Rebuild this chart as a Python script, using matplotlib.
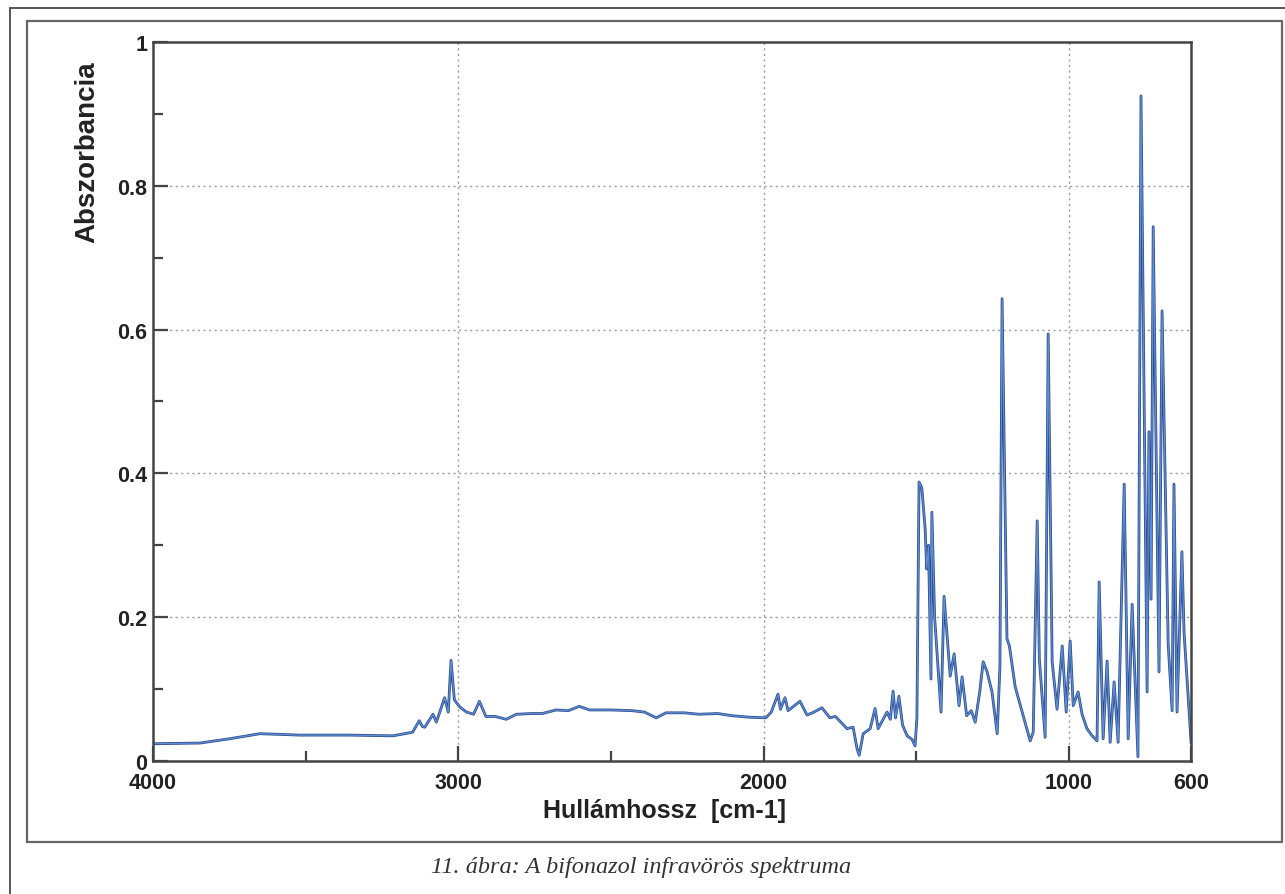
import matplotlib
matplotlib.use("Agg")
import matplotlib.pyplot as plt
from matplotlib.lines import Line2D
from matplotlib.patches import Rectangle

# IR spectrum of bifonazole
wavenumber = [4000, 3846, 3748, 3650, 3518, 3355, 3214, 3175, 3150, 3128, 3118,
              3110, 3083, 3072, 3045, 3033, 3024, 3013, 2995, 2973, 2950, 2931,
              2910, 2880, 2843, 2810, 2760, 2725, 2680, 2640, 2604, 2570, 2500,
              2431, 2390, 2352, 2320, 2260, 2212, 2150, 2104, 2050, 1993, 1975,
              1953, 1945, 1930, 1920, 1881, 1858, 1840, 1809, 1783, 1765, 1727,
              1707, 1694, 1687, 1674, 1651, 1635, 1625, 1596, 1585, 1576, 1568,
              1557, 1545, 1530, 1514, 1504, 1498, 1491, 1482, 1471, 1466, 1460,
              1452, 1449, 1440, 1419, 1409, 1389, 1376, 1360, 1350, 1335, 1320,
              1307, 1292, 1281, 1268, 1252, 1235, 1226, 1219, 1203, 1195, 1176,
              1150, 1127, 1117, 1104, 1097, 1078, 1068, 1055, 1039, 1022, 1009,
              996, 986, 970, 957, 941, 924, 908, 901, 888, 875, 865, 852, 839,
              819, 806, 793, 774, 764, 744, 738, 731, 724, 705, 695, 675, 662,
              656, 646, 630, 623, 616, 606, 600]
absorbance = [0.024, 0.025, 0.031, 0.038, 0.036, 0.036, 0.035, 0.038, 0.040, 0.056, 0.048,
              0.047, 0.065, 0.054, 0.088, 0.068, 0.140, 0.085, 0.075, 0.068, 0.065, 0.083,
              0.062, 0.062, 0.058, 0.065, 0.066, 0.066, 0.071, 0.070, 0.076, 0.071, 0.071,
              0.070, 0.068, 0.060, 0.067, 0.067, 0.065, 0.066, 0.063, 0.061, 0.060, 0.068,
              0.093, 0.072, 0.088, 0.070, 0.083, 0.064, 0.067, 0.074, 0.060, 0.062, 0.045,
              0.047, 0.017, 0.008, 0.038, 0.045, 0.073, 0.045, 0.068, 0.058, 0.097, 0.060,
              0.090, 0.050, 0.035, 0.030, 0.021, 0.060, 0.388, 0.380, 0.323, 0.267, 0.300,
              0.114, 0.346, 0.200, 0.068, 0.229, 0.118, 0.149, 0.077, 0.117, 0.063, 0.070,
              0.054, 0.097, 0.138, 0.124, 0.096, 0.038, 0.132, 0.643, 0.170, 0.160, 0.103,
              0.063, 0.028, 0.040, 0.334, 0.142, 0.033, 0.594, 0.138, 0.072, 0.160, 0.068,
              0.167, 0.077, 0.096, 0.065, 0.045, 0.035, 0.028, 0.249, 0.031, 0.139, 0.026,
              0.110, 0.026, 0.385, 0.031, 0.218, 0.006, 0.925, 0.096, 0.458, 0.225, 0.743,
              0.124, 0.626, 0.163, 0.070, 0.385, 0.068, 0.291, 0.179, 0.132, 0.063, 0.026]

x_major = [4000, 3000, 2000, 1000, 600]
x_major_labels = ["4000", "3000", "2000", "1000", "600"]
x_minor = [3500, 2500, 1500]
y_major = [0, 0.2, 0.4, 0.6, 0.8, 1.0]
y_major_labels = ["0", "0.2", "0.4", "0.6", "0.8", "1"]
y_minor = [0.1, 0.3, 0.5, 0.7, 0.9]

fig = plt.figure(figsize=(12.85, 8.95), dpi=100)
ax = fig.add_axes([0.1191, 0.1486, 0.8078, 0.8034])

ax.plot(wavenumber, absorbance, color="#2f4a8a", lw=2.0, solid_joinstyle="round")
ax.plot(wavenumber, absorbance, color="#5b8fd6", lw=0.9, solid_joinstyle="round")

ax.set_xlim(4000, 600)
ax.set_ylim(0, 1)

ax.set_xticks(x_major)
ax.set_xticklabels(x_major_labels)
ax.set_xticks(x_minor, minor=True)
ax.set_yticks(y_major)
ax.set_yticklabels(y_major_labels)
ax.set_yticks(y_minor, minor=True)

ax.tick_params(which="both", direction="in", color="#444444", width=1.6)
ax.tick_params(which="major", length=11)
ax.tick_params(which="minor", length=7)
ax.tick_params(axis="x", pad=8)
ax.tick_params(axis="y", pad=4)
for lab in ax.get_xticklabels() + ax.get_yticklabels():
    lab.set_fontfamily("Liberation Sans")
    lab.set_fontweight("bold")
    lab.set_fontsize(15.5)
    lab.set_color("#222222")

for v in [3000, 2000, 1000]:
    ax.axvline(v, color="#999999", lw=1, ls=(0, (1.5, 2.5)), zorder=0)
for v in [0.2, 0.4, 0.6, 0.8]:
    ax.axhline(v, color="#999999", lw=1, ls=(0, (1.5, 2.5)), zorder=0)

for s in ax.spines.values():
    s.set_color("#444444")
    s.set_linewidth(1.8)

ax.set_ylabel("Abszorbancia", fontfamily="Liberation Sans", fontweight="bold",
              fontsize=20, color="#222222")
ax.yaxis.set_label_coords(-0.051, 0.848)
ax.set_xlabel("Hullámhossz  [cm-1]", fontfamily="Liberation Sans", fontweight="bold",
              fontsize=18, color="#222222")
ax.xaxis.set_label_coords(0.493, -0.051)

# frames around the figure
fig.patches.append(Rectangle((0.021, 0.0581), 0.9767, 0.9173, transform=fig.transFigure,
                             fill=False, ec="#666666", lw=1.6))
fig.lines.append(Line2D([0.0078, 0.0078], [0.0, 0.99], transform=fig.transFigure,
                        color="#555555", lw=1.4))
fig.lines.append(Line2D([0.0078, 1.0], [0.99, 0.99], transform=fig.transFigure,
                        color="#555555", lw=1.4))

fig.text(0.499, 1 - 868 / 895, "11. ábra: A bifonazol infravörös spektruma",
         ha="center", va="center", fontfamily="Liberation Serif", fontstyle="italic",
         fontsize=17.5, color="#333333")

fig.savefig("out.png", dpi=100)
